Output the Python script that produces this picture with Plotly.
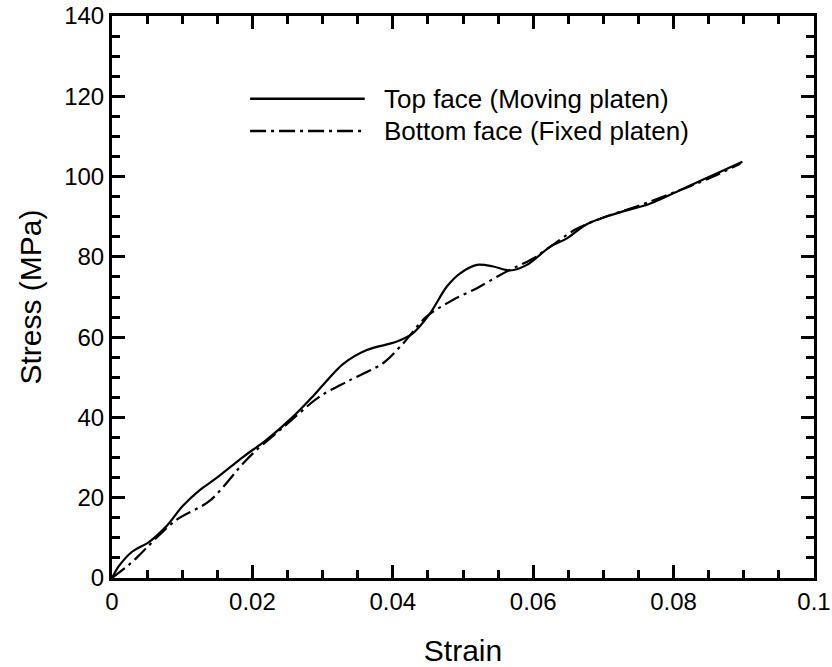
import plotly.graph_objects as go

top_strain = [0, 0.001, 0.0029, 0.0053, 0.0077, 0.0101, 0.0125, 0.0148, 0.0187, 0.022, 0.0258,
              0.0286, 0.0329, 0.0363, 0.0406, 0.0429, 0.0453, 0.0477, 0.0496, 0.052, 0.0543,
              0.0567, 0.0591, 0.0624, 0.0648, 0.0677, 0.072, 0.0767, 0.0815, 0.0862, 0.0898]
top_stress = [0, 3.0, 6.6, 9.0, 12.8, 18.0, 21.9, 24.8, 30.2, 34.4, 40.2,
              45.2, 53.3, 56.8, 58.9, 61.0, 65.9, 72.6, 75.9, 78.0, 77.6,
              76.6, 78.0, 82.5, 84.6, 88.2, 90.9, 93.3, 97.1, 100.8, 103.7]

bot_strain = [0, 0.0027, 0.0039, 0.0091, 0.0139, 0.0187, 0.0206, 0.0243, 0.0296, 0.0339, 0.0386,
              0.0415, 0.0448, 0.0486, 0.052, 0.0553, 0.0572, 0.06, 0.0624, 0.066, 0.07,
              0.075, 0.08, 0.085, 0.0895]
bot_stress = [0, 3.7, 5.7, 14.4, 19.2, 28.6, 31.9, 37.4, 45.2, 49.3, 53.5,
              58.5, 65.1, 69.3, 72.2, 75.5, 77.2, 79.6, 82.5, 86.8, 89.8,
              92.7, 96.0, 99.5, 103.2]

series_names = ["Top face (Moving platen)", "Bottom face (Fixed platen)"]
x_ticks = [0, 0.02, 0.04, 0.06, 0.08, 0.1]
x_tick_labels = ["0", "0.02", "0.04", "0.06", "0.08", "0.1"]
y_ticks = [0, 20, 40, 60, 80, 100, 120, 140]

FONT = "Liberation Sans, Arial, sans-serif"
DASHDOT = "16px,5px,3px,5px"

fig = go.Figure()
fig.add_trace(go.Scatter(x=top_strain, y=top_stress, mode="lines", name=series_names[0],
                         line=dict(color="black", width=2.2, shape="spline", smoothing=0.9),
                         showlegend=False))
fig.add_trace(go.Scatter(x=bot_strain, y=bot_stress, mode="lines", name=series_names[1],
                         line=dict(color="black", width=2.2, dash=DASHDOT, shape="spline", smoothing=0.9),
                         showlegend=False))

# legend drawn manually (long sample lines)
leg_y = [0.8528, 0.7954]
fig.add_shape(type="line", xref="paper", yref="paper", x0=0.1967, x1=0.36, y0=leg_y[0], y1=leg_y[0],
              line=dict(color="black", width=2.5))
fig.add_shape(type="line", xref="paper", yref="paper", x0=0.1967, x1=0.36, y0=leg_y[1], y1=leg_y[1],
              line=dict(color="black", width=2.5, dash=DASHDOT))
for name, yy in zip(series_names, leg_y):
    fig.add_annotation(text=name, xref="paper", yref="paper", x=0.3853, y=yy,
                       xanchor="left", yanchor="middle", showarrow=False,
                       font=dict(family=FONT, size=26, color="black"))

axis_common = dict(
    showline=True, linecolor="black", linewidth=3, mirror="ticks",
    ticks="inside", ticklen=13, tickwidth=2.5, tickcolor="black",
    showgrid=False, zeroline=False, automargin=False,
    tickfont=dict(family=FONT, size=24, color="black"),
)

fig.update_xaxes(range=[0, 0.1], tickvals=x_ticks, ticktext=x_tick_labels,
                 minor=dict(ticks="inside", ticklen=8, tickwidth=2.5, tickcolor="black", dtick=0.005),
                 title=dict(text="Strain", font=dict(family=FONT, size=30, color="black"), standoff=28),
                 **axis_common)
fig.update_yaxes(range=[0, 140], tickvals=y_ticks,
                 minor=dict(ticks="inside", ticklen=8, tickwidth=2.5, tickcolor="black", dtick=5),
                 title=dict(text="Stress (MPa)", font=dict(family=FONT, size=30, color="black"), standoff=14),
                 **axis_common)

fig.update_layout(
    width=832, height=667,
    margin=dict(l=112, r=18, t=16, b=89),
    paper_bgcolor="white", plot_bgcolor="white",
    font=dict(family=FONT, color="black"),
)

fig.write_html("out.html")
